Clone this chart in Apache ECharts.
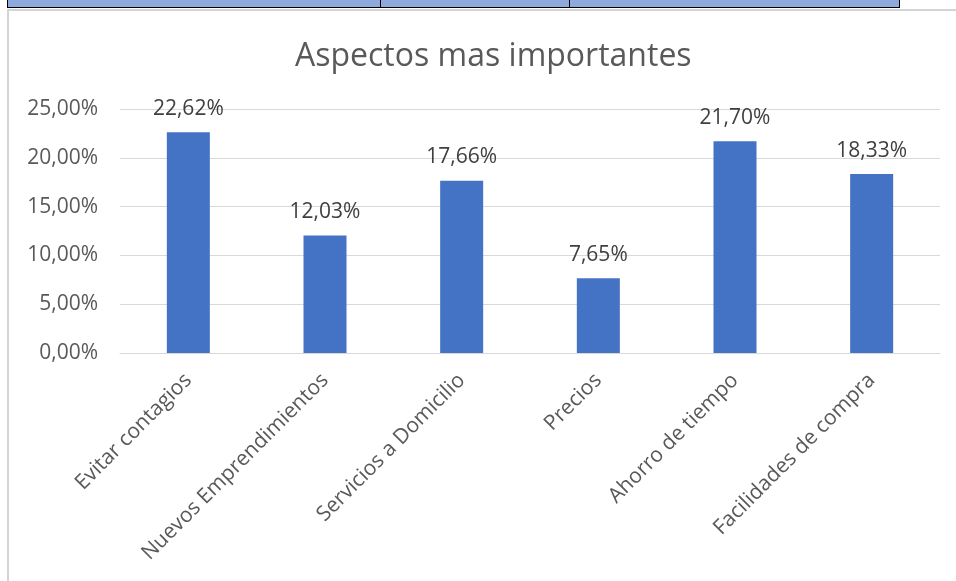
<!DOCTYPE html>
<html>
<head>
<meta charset="utf-8">
<script src="https://cdn.jsdelivr.net/npm/echarts@6/dist/echarts.min.js"></script>
<style>
  html, body { margin: 0; padding: 0; background: #fff; }
  #wrap { position: relative; width: 956px; height: 581px; overflow: hidden; }
  #strip { position: absolute; left: 7px; top: 0; width: 891px; height: 7px; background: #8EA9DB; border: 1px solid #000; border-top: none; }
  .div1 { position: absolute; top: 0; width: 1px; height: 8px; background: #000; }
  #frame { position: absolute; left: 7px; top: 9px; width: 960px; height: 580px; border-left: 2px solid #d4d4d4; border-top: 2px solid #d4d4d4; }
  #chart { position: absolute; left: 0; top: 0; width: 956px; height: 581px; }
</style>
</head>
<body>
<div id="wrap">
  <div id="frame"></div>
  <div id="strip"></div>
  <div class="div1" style="left:380px"></div>
  <div class="div1" style="left:569px"></div>
  <div id="chart"></div>
</div>
<script>
const categories = ["Evitar contagios", "Nuevos Emprendimientos", "Servicios a Domicilio", "Precios", "Ahorro de tiempo", "Facilidades de compra"];
const values = [22.62, 12.03, 17.66, 7.65, 21.70, 18.33];
const titleText = "Aspectos mas importantes";

function pct(v) {
  return v.toFixed(2).replace(".", ",") + "%";
}

let mychart = echarts.init(document.getElementById("chart"));
let option = {
  animation: false,
  textStyle: { fontFamily: "Open Sans" },
  title: {
    text: titleText,
    left: 290,
    top: 36,
    textStyle: { color: "#595959", fontSize: 32, fontWeight: "normal", fontFamily: "Open Sans" }
  },
  grid: { left: 120, right: 16, top: 109, bottom: 228, containLabel: false },
  xAxis: {
    type: "category",
    data: categories,
    axisTick: { show: false },
    axisLine: { lineStyle: { color: "#d9d9d9", width: 1 } },
    axisLabel: { rotate: 45, color: "#595959", fontSize: 21, margin: 24, interval: 0 }
  },
  yAxis: {
    type: "value",
    min: 0,
    max: 25,
    interval: 5,
    axisLine: { show: false },
    axisTick: { show: false },
    axisLabel: { color: "#595959", fontSize: 21, margin: 22, formatter: v => pct(v) },
    splitLine: { lineStyle: { color: "#d9d9d9", width: 1 } }
  },
  series: [
    {
      type: "bar",
      data: values,
      barWidth: 43,
      itemStyle: { color: "#4472C4" },
      label: {
        show: true,
        position: "top",
        distance: 13,
        color: "#404040",
        fontSize: 21,
        formatter: p => pct(p.value)
      }
    }
  ]
};
mychart.setOption(option);
</script>
</body>
</html>
